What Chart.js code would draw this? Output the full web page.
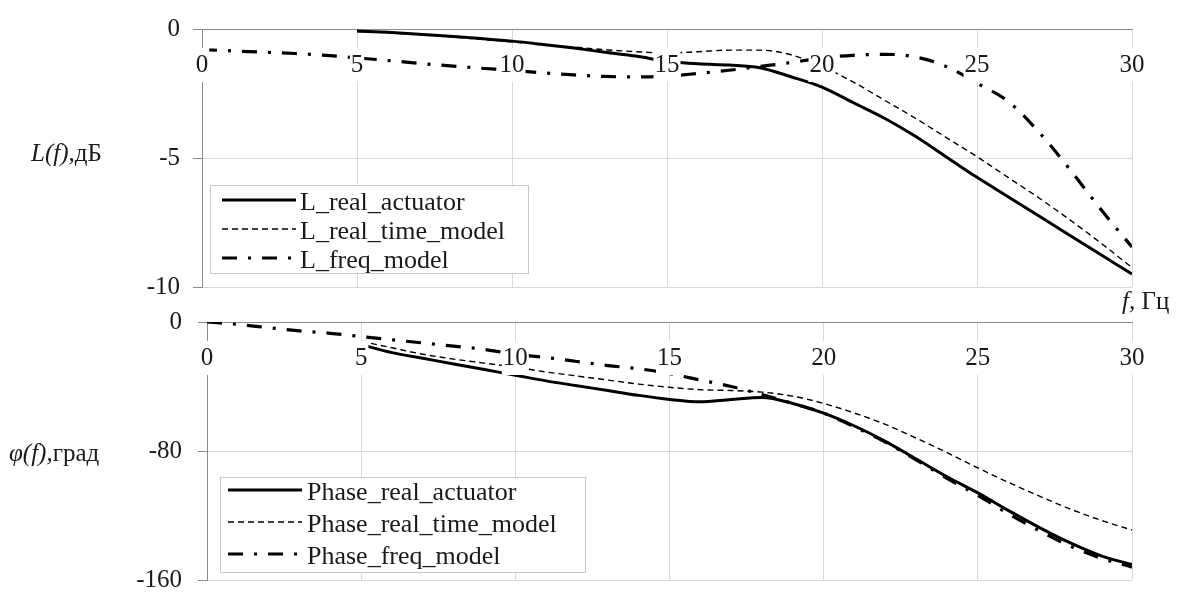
<!DOCTYPE html>
<html>
<head>
<meta charset="utf-8">
<script src="https://cdn.jsdelivr.net/npm/chart.js@4.4.1/dist/chart.umd.min.js"></script>
<style>
  html, body { margin: 0; padding: 0; background: #fff; }
  body { width: 1184px; height: 592px; position: relative; overflow: hidden; font-family: 'Liberation Serif', serif; }
  .wrap { position: absolute; left: 0; width: 1184px; }
  .lbl { position: absolute; font-family: 'Liberation Serif', serif; font-size: 25px; color: #1a1a1a; white-space: nowrap; line-height: 1; }
</style>
</head>
<body>
<div class="wrap" style="top:0;height:300px"><canvas id="cTop" width="1184" height="300"></canvas></div>
<div class="wrap" style="top:300px;height:292px"><canvas id="cBot" width="1184" height="292"></canvas></div>
<div class="lbl" style="left:31px;top:140px"><i>L(f),</i>дБ</div>
<div class="lbl" style="left:9px;top:440px"><i>φ(f),</i>град</div>
<div class="lbl" style="left:1122px;top:288px"><i>f,</i> Гц</div>
<script>
// ---- data ----
const freqLate = [5,6,7,8,9,10,11,12,13,14,15,16,17,18,19,20,21,22,23,24,25,26,27,28,29,30];
const freqFull = [0,1,2,3,4,5,6,7,8,9,10,11,12,13,14,15,16,17,18,19,20,21,22,23,24,25,26,27,28,29,30];
const xTicks = [0,5,10,15,20,25,30];
const ampTicks = [0,-5,-10];
const phaseTicks = [0,-80,-160];

const L_real_actuator = [-0.08,-0.13,-0.2,-0.28,-0.37,-0.47,-0.6,-0.74,-0.9,-1.05,-1.25,-1.35,-1.4,-1.5,-1.85,-2.25,-2.85,-3.45,-4.15,-4.95,-5.75,-6.5,-7.25,-8.0,-8.75,-9.5];
const L_real_time_model = [-0.1,-0.15,-0.22,-0.3,-0.4,-0.5,-0.6,-0.7,-0.8,-0.88,-0.93,-0.88,-0.82,-0.82,-1.0,-1.45,-2.05,-2.75,-3.45,-4.2,-4.95,-5.75,-6.55,-7.4,-8.3,-9.25];
const L_freq_model = [-0.8,-0.85,-0.9,-0.95,-1.02,-1.12,-1.22,-1.33,-1.43,-1.52,-1.6,-1.7,-1.78,-1.84,-1.86,-1.83,-1.72,-1.6,-1.45,-1.3,-1.12,-1.02,-0.98,-1.08,-1.45,-2.1,-2.8,-4.0,-5.45,-7.0,-8.45];

const Phase_real_actuator = [-14,-19,-22.5,-26,-29.5,-33,-36.5,-39.5,-42.5,-45.5,-48,-49.5,-48,-46.8,-50.5,-56.5,-64.5,-74,-85,-96,-106,-117,-127.5,-137,-145,-150.5];
const Phase_real_time_model = [-12,-16,-20,-23,-25.5,-28,-31,-33.5,-36,-38.5,-40.5,-42,-42.5,-43.5,-46,-50.5,-56.5,-63.5,-72,-81,-90.5,-99.5,-108,-116,-123,-129];
const Phase_freq_model = [0,-1.5,-3.5,-5.5,-7,-9,-11,-13,-15,-17,-20,-22,-24.5,-27,-29,-32,-36,-40,-45,-50.5,-56.5,-65,-74.5,-85.5,-97,-107.5,-119,-129.5,-139,-146.5,-152];

// ---- helpers ----
const pts = (xs, ys) => xs.map((x, i) => ({x, y: ys[i]}));
const FONT = 'Liberation Serif';
const styleSolid = {borderColor: '#000', borderWidth: 3, borderDash: []};
const styleDash = {borderColor: '#000', borderWidth: 1.4, borderDash: [6, 4]};
const styleDashDot = {borderColor: '#000', borderWidth: 3.2, borderDash: [15, 11, 3, 11]};

function ds(label, xs, ys, st) {
  return Object.assign({label, data: pts(xs, ys), pointRadius: 0, fill: false, cubicInterpolationMode: 'monotone', borderCapStyle: 'butt'}, st);
}

const boxLegend = {
  id: 'boxLegend',
  afterDatasetsDraw(chart, args, o) {
    const ctx = chart.ctx;
    ctx.save();
    ctx.fillStyle = '#fff';
    ctx.fillRect(o.left, o.top, o.width, o.height);
    ctx.strokeStyle = '#c8c8c8';
    ctx.lineWidth = 1;
    ctx.strokeRect(o.left + 0.5, o.top + 0.5, o.width, o.height);
    chart.data.datasets.forEach((d, i) => {
      const y = o.firstRow + i * o.rowGap;
      ctx.beginPath();
      ctx.setLineDash(d.borderDash || []);
      ctx.lineWidth = d.borderWidth;
      ctx.strokeStyle = d.borderColor;
      ctx.moveTo(o.sampleX0, y);
      ctx.lineTo(o.sampleX1, y);
      ctx.stroke();
      ctx.setLineDash([]);
      ctx.fillStyle = '#1a1a1a';
      ctx.font = o.fontSize + 'px "' + FONT + '"';
      ctx.textBaseline = 'middle';
      ctx.textAlign = 'left';
      ctx.fillText(d.label, o.textX, y + 3);
    });
    ctx.restore();
  }
};

function makeOptions(yMin, yMax, yTicks, yWidth, yPad, pad, legend) {
  return {
    responsive: false,
    animation: false,
    layout: {padding: pad},
    plugins: {legend: {display: false}, tooltip: {enabled: false}, boxLegend: legend},
    scales: {
      x: {
        type: 'linear', min: 0, max: 30,
        position: {y: 0},
        afterBuildTicks: (s) => { s.ticks = xTicks.map(v => ({value: v})); },
        afterFit: (s) => { s.paddingLeft = 0; s.paddingRight = 0; s.paddingTop = 0; s.paddingBottom = 0; },
        grid: {color: '#d9d9d9', lineWidth: 1, drawTicks: false},
        border: {display: true, color: '#8c8c8c', width: 1},
        ticks: {
          font: {family: FONT, size: 25, lineHeight: 1.2}, color: '#1a1a1a', padding: 21,
          maxRotation: 0, autoSkip: false, z: 1,
          showLabelBackdrop: true, backdropColor: '#fff', backdropPadding: {top: 2, bottom: 2, left: 1, right: 1}
        }
      },
      y: {
        type: 'linear', min: yMin, max: yMax, position: 'left',
        afterBuildTicks: (s) => { s.ticks = yTicks.map(v => ({value: v})); },
        afterFit: (s) => { s.width = yWidth; s.paddingTop = 0; s.paddingBottom = 0; },
        grid: {color: '#d9d9d9', lineWidth: 1, tickLength: 9, tickColor: '#8c8c8c'},
        border: {display: true, color: '#8c8c8c', width: 1},
        ticks: {font: {family: FONT, size: 25, lineHeight: 1}, color: '#1a1a1a', padding: yPad, autoSkip: false}
      }
    }
  };
}

new Chart(document.getElementById('cTop'), {
  type: 'line',
  data: {datasets: [
    ds('L_real_actuator', freqLate, L_real_actuator, styleSolid),
    ds('L_real_time_model', freqLate, L_real_time_model, styleDash),
    ds('L_freq_model', freqFull, L_freq_model, styleDashDot)
  ]},
  options: makeOptions(-10, 0, ampTicks, 202, 13, {top: 29, bottom: 13, left: 0, right: 52},
    {left: 210, top: 185, width: 318, height: 88, firstRow: 200, rowGap: 29, sampleX0: 222, sampleX1: 296, textX: 300, fontSize: 26}),
  plugins: [boxLegend]
});

new Chart(document.getElementById('cBot'), {
  type: 'line',
  data: {datasets: [
    ds('Phase_real_actuator', freqLate, Phase_real_actuator, styleSolid),
    ds('Phase_real_time_model', freqLate, Phase_real_time_model, styleDash),
    ds('Phase_freq_model', freqFull, Phase_freq_model, styleDashDot)
  ]},
  options: makeOptions(-160, 0, phaseTicks, 207, 16, {top: 22, bottom: 12, left: 0, right: 52},
    {left: 220, top: 177, width: 365, height: 95, firstRow: 190, rowGap: 32, sampleX0: 228, sampleX1: 302, textX: 307, fontSize: 26}),
  plugins: [boxLegend]
});
</script>
</body>
</html>
